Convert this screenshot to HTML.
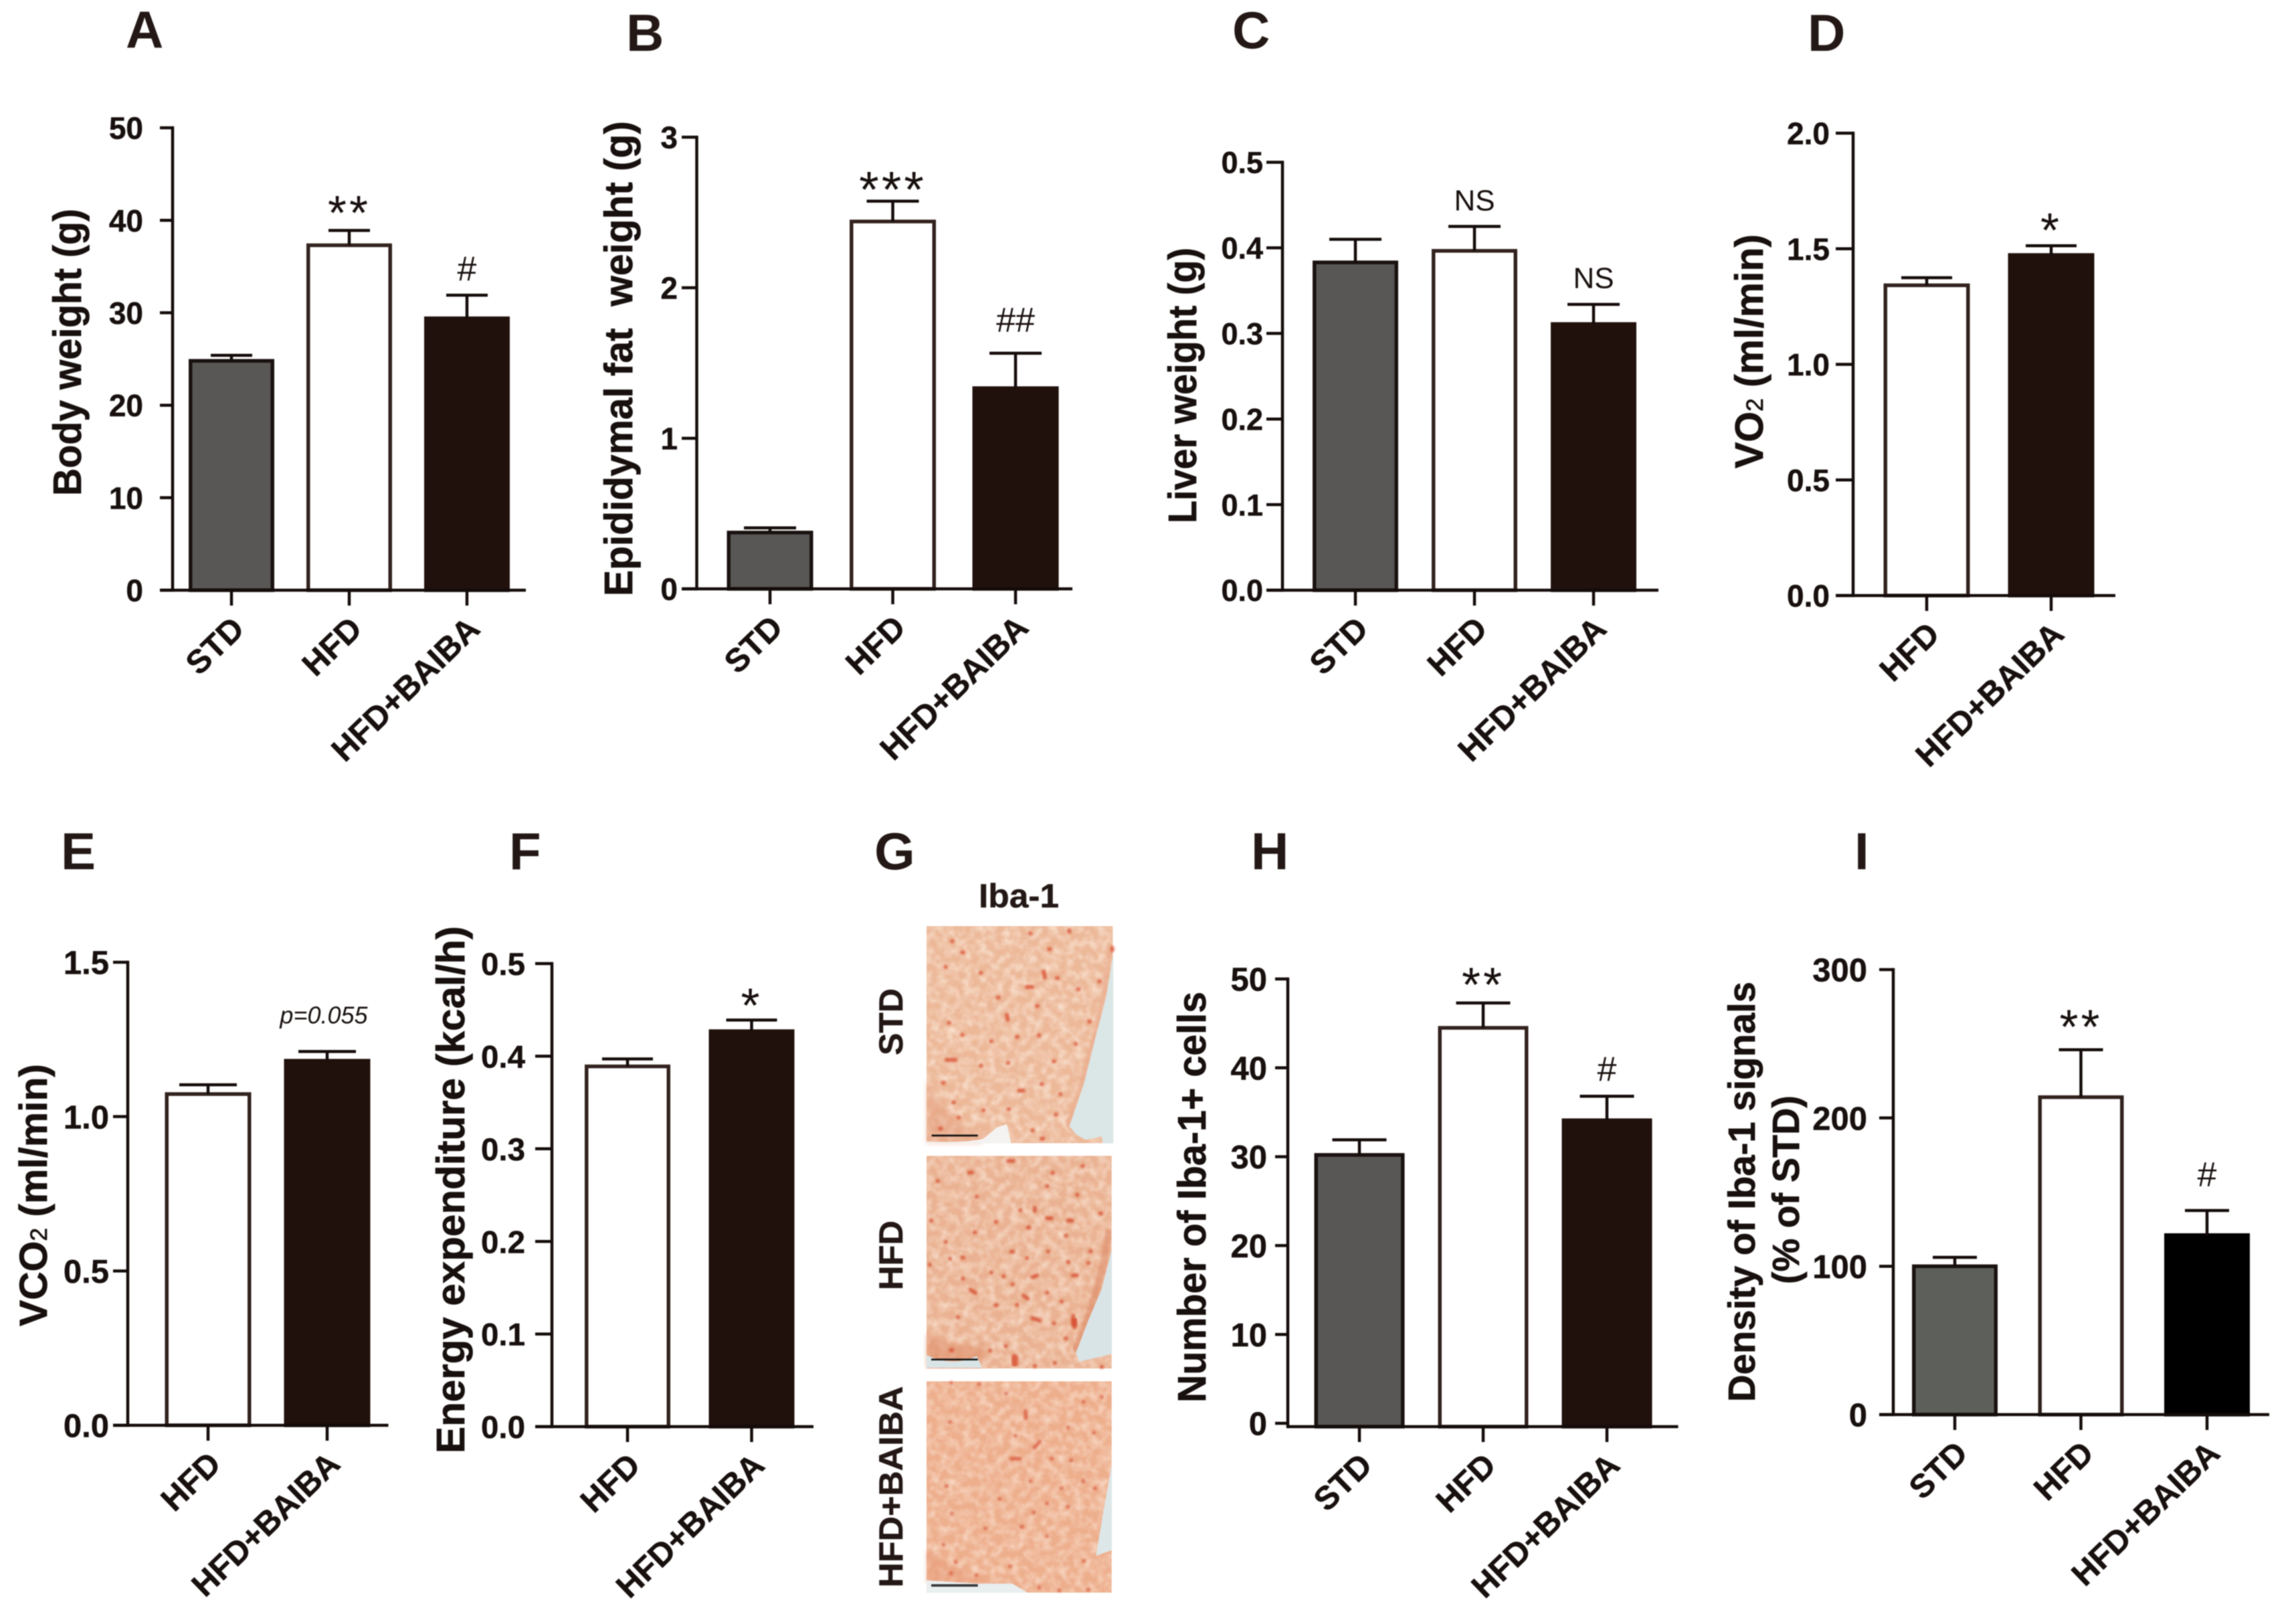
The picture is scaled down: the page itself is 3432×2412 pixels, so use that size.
<!DOCTYPE html>
<html lang="en">
<head>
<meta charset="utf-8">
<title>BAIBA multi-panel bar charts</title>
<style>
html,body{margin:0;padding:0;background:#fff;width:3432px;height:2412px;overflow:hidden}
svg#figure{display:block;filter:blur(.8px)}
text{font-family:"Liberation Sans",sans-serif;fill:#17100e;white-space:pre}
.letter{font-size:78px;font-weight:700;fill:#231815}
.tick{font-weight:700;stroke:#17100e;stroke-width:.5}
.ttl{font-weight:700;stroke:#17100e;stroke-width:.7}
.side{font-size:50px;font-weight:700;fill:#231815;stroke:#231815;stroke-width:.5}
</style>
</head>
<body>
<svg id="figure" xmlns="http://www.w3.org/2000/svg" width="3432" height="2412" viewBox="0 0 3432 2412">
<defs>
<filter id="tissue" x="0" y="0" width="100%" height="100%">
<feTurbulence type="fractalNoise" baseFrequency="0.028" numOctaves="3" seed="7"/>
<feColorMatrix type="matrix" values="0 0 0 0 .99  0 0 0 0 .89  0 0 0 0 .80  1.7 0 0 0 -.62"/>
<feGaussianBlur stdDeviation="3"/>
</filter>
<filter id="soft" x="-5%" y="-5%" width="110%" height="110%"><feGaussianBlur stdDeviation="5"/></filter>
<filter id="softer" x="-5%" y="-5%" width="110%" height="110%"><feGaussianBlur stdDeviation="12"/></filter>
</defs>
<rect width="3432" height="2412" fill="#fff"/>

<g>
<text class="letter" x="188" y="71">A</text>
<text class="letter" x="936" y="76">B</text>
<text class="letter" x="1842" y="72">C</text>
<text class="letter" x="2702" y="76">D</text>
<text class="letter" x="91" y="1299">E</text>
<text class="letter" x="761" y="1299">F</text>
<text class="letter" x="1307" y="1299">G</text>
<text class="letter" x="1870" y="1299">H</text>
<text class="letter" x="2772" y="1299">I</text>
</g>

<g>
<text class="side" x="1531" y="1356" text-anchor="middle" textLength="120" lengthAdjust="spacingAndGlyphs" dx="-8">Iba-1</text>
<text class="side" transform="translate(1349 1527) rotate(-90)" text-anchor="middle" textLength="100" lengthAdjust="spacingAndGlyphs">STD</text>
<text class="side" transform="translate(1349 1876) rotate(-90)" text-anchor="middle" textLength="104" lengthAdjust="spacingAndGlyphs">HFD</text>
<text class="side" transform="translate(1349 2222) rotate(-90)" text-anchor="middle" textLength="301" lengthAdjust="spacingAndGlyphs">HFD+BAIBA</text>

<svg x="1380" y="1380" width="290" height="340" viewBox="0 0 870 1020">
<rect x="15" y="12" width="835" height="973" fill="#ecb898"/>
<rect x="15" y="12" width="835" height="973" filter="url(#tissue)" opacity=".8"/>
<path d="M15 700Q160 960 280 930L340 900L260 985H15Z" fill="#e59f7e" opacity=".5" filter="url(#softer)"/>
<path d="M840 130Q790 500 650 900L720 960" fill="none" stroke="#e9a98a" stroke-width="22" opacity=".6" filter="url(#soft)"/>
<path fill="#dbe6e6" d="M852 140L820 330L770 520L720 720L655 910L690 950L730 970L800 955L805 986H852Z"/>
<path fill="#f4f3f1" d="M15 986V978Q200 985 270 965L330 915L375 900L395 986Z"/>
<path fill="none" stroke="#d9492a" stroke-width="18" stroke-linecap="round" opacity=".78" filter="url(#soft)" d="M480 45h1M655 30v8M130 80h1M565 115h5M848 110v10M175 130h5M100 195h1M258 222h1M540 215l6 28M600 245h3M790 260h1M465 285h25M695 295h1M335 332h3M510 370h3M375 410l4 22M745 440h1M115 445h1M175 500h1M520 500v3M305 528h1M420 508h3M683 540h1M105 612h40M585 618h3M380 625h1M258 638h1M88 715h5M530 720h3M430 750h20M615 765h1M135 802h3M270 838h1M383 832h1M595 857h1M158 870h1M75 920h6M490 928h1M530 965h8"/>
<path stroke="#111" stroke-width="8" d="M38 951H245"/>
</svg>

<svg x="1380" y="1720" width="290" height="340" viewBox="0 0 870 1020">
<rect x="15" y="22" width="830" height="953" fill="#eab292"/>
<rect x="15" y="22" width="830" height="953" filter="url(#tissue)" opacity=".75"/>
<path d="M15 820Q140 900 280 860L260 970H15Z" fill="#e08f6b" opacity=".6" filter="url(#softer)"/>
<path d="M835 350Q800 620 680 900" fill="none" stroke="#dd8a66" stroke-width="34" opacity=".6" filter="url(#soft)"/>
<path fill="#d9e4e6" d="M846 440L800 620L740 760L685 905L700 945L846 910Z"/>
<path fill="#d9e4e6" d="M15 915Q130 970 240 920L265 972H15Z"/>
<path fill="none" stroke="#d54a2a" stroke-width="18" stroke-linecap="round" opacity=".78" filter="url(#soft)" d="M380 45h25M205 97h15M65 135h1M715 68h1M580 98h1M555 158h1M240 205h1M690 197h1M435 265h1M500 255v14M795 280h3M35 312h1M325 318h3M555 302h20M650 312h18M470 343h5M230 365h3M640 380h1M100 408h1M395 452h8M560 450h1M175 478h5M120 483h1M465 480h1M750 450h1M30 510h1M740 503h1M650 498h1M490 566l20-8M670 558h20M360 562h1M178 572h1M305 545h1M212 622l22 14M400 598h1M555 635h1M450 648l18 14M620 675h1M420 690h1M325 692h5M155 745h1M490 750l32 10M585 773h1M672 740l6 50M640 840h1M125 893h5M370 875h1M300 895h1M500 965h1M590 950h1M800 968h1"/>
<path stroke="#d94f30" stroke-width="30" stroke-linecap="round" opacity=".8" filter="url(#soft)" d="M410 925v30M678 760v15" fill="none"/>
<path stroke="#111" stroke-width="8" d="M36 935H245"/>
</svg>

<svg x="1380" y="2055" width="290" height="340" viewBox="0 0 870 1020">
<rect x="15" y="28" width="830" height="947" fill="#edae8c"/>
<rect x="15" y="28" width="830" height="947" filter="url(#tissue)" opacity=".7"/>
<path d="M15 780Q200 940 400 920L240 932H15Z" fill="#e79a78" opacity=".5" filter="url(#softer)"/>
<path fill="#dde7e8" d="M846 400L810 600L775 810L846 785Z"/>
<path fill="#e9eeee" d="M15 920L240 935L400 935L470 976H15Z"/>
<path fill="none" stroke="#d54a2e" stroke-width="16" stroke-linecap="round" opacity=".7" filter="url(#soft)" d="M125 35h1M250 40h1M372 82h1M718 120h1M800 98h1M458 160l3 34M120 210h1M650 235h1M765 258h1M413 272h1M498 325l25-28M395 375h38M575 375h3M663 382h1M718 472v6M480 475h1M105 497h1M770 507h1M620 507h1M342 555h1M555 575h1M648 590h1M495 615h1M128 620h1M278 687h3M440 680h4M555 722h1M90 760h1M145 838h2M720 833h1M390 857h1M238 897h1M125 888h1M520 950v4M610 965h1M740 962h1"/>
<path stroke="#333" stroke-width="11" d="M36 943H245"/>
</svg>
</g>

<g id="charts"></g>
</svg>

<script>
// ---- shared categories ----
const groupsThree = ['STD', 'HFD', 'HFD+BAIBA'];
const groupsTwo = ['HFD', 'HFD+BAIBA'];

// ---- panel A ----
const bodyWeightTicks = ['0', '10', '20', '30', '40', '50'];
const bodyWeightMeans = [24.8, 37.3, 29.4];
const bodyWeightUpper = [25.4, 38.9, 31.9];
const bodyWeightMarks = ['', '**', '#'];

// ---- panel B ----
const fatWeightTicks = ['0', '1', '2', '3'];
const fatWeightMeans = [0.374, 2.44, 1.333];
const fatWeightUpper = [0.405, 2.575, 1.565];
const fatWeightMarks = ['', '***', '##'];

// ---- panel C ----
const liverWeightTicks = ['0.0', '0.1', '0.2', '0.3', '0.4', '0.5'];
const liverWeightMeans = [0.383, 0.3965, 0.311];
const liverWeightUpper = [0.41, 0.425, 0.334];
const liverWeightMarks = ['', 'NS', 'NS'];

// ---- panel D ----
const vo2Ticks = ['0.0', '0.5', '1.0', '1.5', '2.0'];
const vo2Means = [1.342, 1.473];
const vo2Upper = [1.375, 1.513];
const vo2Marks = ['', '*'];

// ---- panel E ----
const vco2Ticks = ['0.0', '0.5', '1.0', '1.5'];
const vco2Means = [1.073, 1.181];
const vco2Upper = [1.103, 1.211];
const vco2Marks = ['', 'p=0.055'];

// ---- panel F ----
const energyTicks = ['0.0', '0.1', '0.2', '0.3', '0.4', '0.5'];
const energyMeans = [0.389, 0.427];
const energyUpper = [0.397, 0.439];
const energyMarks = ['', '*'];

// ---- panel H ----
const cellCountTicks = ['0', '10', '20', '30', '40', '50'];
const cellCountMeans = [30.2, 44.5, 34.1];
const cellCountUpper = [31.9, 47.3, 36.8];
const cellCountMarks = ['', '**', '#'];

// ---- panel I ----
const densityTicks = ['0', '100', '200', '300'];
const densityMeans = [100, 214, 121];
const densityUpper = [106, 246, 137.6];
const densityMarks = ['', '**', '#'];

const SVGNS = 'http://www.w3.org/2000/svg';
const INK = '#140c0a';

const panels = [
  {id:'a', groups:groupsThree, ticks:bodyWeightTicks, means:bodyWeightMeans, upper:bodyWeightUpper, marks:bodyWeightMarks,
   axisX:258, top:191, base:882, xEnd:786, tickLeft:239, labelRight:214, first:346, step:176, barW:128, capW:62, font:46,
   titles:[{t:'Body weight (g)', x:121, y0:312, y1:741, fs:59}], fills:['#585756','#fff','#21110d'], gapStar:35, gapOther:40},
  {id:'b', groups:groupsThree, ticks:fatWeightTicks, means:fatWeightMeans, upper:fatWeightUpper, marks:fatWeightMarks,
   axisX:1041.5, top:205, base:880, xEnd:1603, tickLeft:1019, labelRight:1013, first:1151, step:183.5, barW:129, capW:78, font:46,
   titles:[{t:'Epididymal fat  weight (g)', x:945, y0:181, y1:891, fs:59}], fills:['#585756','#fff','#21110d'], gapStar:27, gapOther:50},
  {id:'c', groups:groupsThree, ticks:liverWeightTicks, means:liverWeightMeans, upper:liverWeightUpper, marks:liverWeightMarks,
   axisX:1917, top:242.5, base:882, xEnd:2479, tickLeft:1893, labelRight:1888, first:2026, step:178, barW:128, capW:78, font:45,
   titles:[{t:'Liver weight (g)', x:1788, y0:370, y1:782, fs:59}], fills:['#585756','#fff','#21110d'], gapStar:35, gapOther:40},
  {id:'d', groups:groupsTwo, ticks:vo2Ticks, means:vo2Means, upper:vo2Upper, marks:vo2Marks,
   axisX:2770, top:199, base:890, xEnd:3162, tickLeft:2744, labelRight:2735, first:2880, step:186, barW:129, capW:76, font:46,
   titles:[{t:'VO', sub:'2', rest:' (ml/min)', x:2635, y0:350, y1:700, fs:59}], fills:['#fff','#21110d'], gapStar:32, gapOther:40},
  {id:'e', groups:groupsTwo, ticks:vco2Ticks, means:vco2Means, upper:vco2Upper, marks:vco2Marks,
   axisX:191, top:1438, base:2130, xEnd:580.5, tickLeft:169, labelRight:163, first:311, step:178, barW:129, capW:86, font:49,
   titles:[{t:'VCO', sub:'2', rest:' (ml/min)', x:70, y0:1590, y1:1982, fs:58}], fills:['#fff','#21110d'], gapStar:32, gapOther:55},
  {id:'f', groups:groupsTwo, ticks:energyTicks, means:energyMeans, upper:energyUpper, marks:energyMarks,
   axisX:825, top:1440, base:2132, xEnd:1216, tickLeft:800, labelRight:785, first:938, step:185.5, barW:128, capW:76, font:47.5,
   titles:[{t:'Energy expenditure (kcal/h)', x:694, y0:1384, y1:2172, fs:59}], fills:['#fff','#21110d'], gapStar:31, gapOther:40},
  {id:'h', groups:groupsThree, ticks:cellCountTicks, means:cellCountMeans, upper:cellCountUpper, marks:cellCountMarks,
   axisX:1925, top:1463, base:2127, axisDrop:5, xEnd:2508.5, tickLeft:1906, labelRight:1894, first:2032, step:185, barW:135, capW:81, font:49,
   titles:[{t:'Number of Iba-1+ cells', x:1802, y0:1482, y1:2096, fs:59}], fills:['#585756','#fff','#21110d'], gapStar:36, gapOther:41},
  {id:'i', groups:groupsThree, ticks:densityTicks, means:densityMeans, upper:densityUpper, marks:densityMarks,
   axisX:2830, top:1449, base:2114, xEnd:3392, tickLeft:2809, labelRight:2791, first:2922, step:188.5, barW:128, capW:66, font:49,
   titles:[{t:'Density of Iba-1 signals', x:2623, y0:1467, y1:2095, fs:57},{t:'(% of STD)', x:2689, y0:1637, y1:1919, fs:57}],
   fills:['#5d5f5b','#fff','#000'], gapStar:43, gapOther:54}
];

const root = document.getElementById('charts');

function line(parent, name, x1, y1, x2, y2, color, width) {
  const el = document.createElementNS(SVGNS, 'line');
  
  
  el.setAttribute('x1', x1);
  el.setAttribute('y1', y1);
  el.setAttribute('x2', x2);
  el.setAttribute('y2', y2);
  el.setAttribute('stroke', color);
  el.setAttribute('stroke-width', width);
  parent.appendChild(el);
  return el;
}

function label(parent, name, str, x, y, size, anchor, cls) {
  const el = document.createElementNS(SVGNS, 'text');
  
  
  el.setAttribute('x', x);
  el.setAttribute('y', y);
  el.setAttribute('font-size', size);
  el.setAttribute('text-anchor', anchor);
  if (cls) el.setAttribute('class', cls);
  el.textContent = str;
  parent.appendChild(el);
  return el;
}

function drawPanel(p) {
  const g = document.createElementNS(SVGNS, 'g');
  
  
  root.appendChild(g);

  const yMax = parseFloat(p.ticks[p.ticks.length - 1]);
  const yScale = v => p.base - (p.base - p.top) * v / yMax;
  const xScale = i => p.first + p.step * i;
  const axisY = p.base + (p.axisDrop || 0);
  const lw = 4.5;

  // bars
  p.means.forEach((m, i) => {
    const cx = xScale(i);
    const w = p.barW;
    const sw = 5.5;
    const bar = document.createElementNS(SVGNS, 'rect');
    
    
    bar.setAttribute('x', cx - w / 2 + sw / 2);
    bar.setAttribute('y', yScale(m));
    bar.setAttribute('width', w - sw);
    bar.setAttribute('height', Math.max(0, axisY - yScale(m)));
    bar.setAttribute('fill', p.fills[i]);
    const white = p.fills[i] === '#fff';
    bar.setAttribute('stroke', white ? '#32221e' : (p.fills[i] === '#585756' || p.fills[i] === '#5d5f5b' ? '#1a1210' : p.fills[i]));
    bar.setAttribute('stroke-width', sw);
    g.appendChild(bar);

    // error bar
    const up = yScale(p.upper[i]);
    line(g, 'error-bar-' + p.id + '-' + i, cx, yScale(m), cx, up, INK, lw);
    line(g, 'error-cap-' + p.id + '-' + i, cx - p.capW / 2, up, cx + p.capW / 2, up, INK, lw);

    // significance mark
    const mk = p.marks[i];
    if (mk) {
      let size, lift, mx = cx;
      if (mk[0] === '*') { size = mk.length === 3 ? 76 : 72; lift = p.gapStar - size * 0.47; }
      else if (mk[0] === '#') { size = 52; lift = p.gapOther - size * 0.35; }
      else if (mk === 'NS') { size = 44; lift = p.gapOther - size * 0.36; }
      else { size = 36; lift = p.gapOther - size * 0.36; mx = cx - 5; }
      const t = label(g, 'significance-mark-' + p.id + '-' + i, mk, mx, up - lift, size, 'middle');
      if (mk[0] === 'p') t.setAttribute('font-style', 'italic');
      if (mk[0] === '*') t.setAttribute('letter-spacing', '4');
      if (mk === 'NS' || mk[0] === 'p') t.setAttribute('fill', '#3a2a26');
    }

    // x tick + rotated label
    line(g, 'x-tick-' + p.id + '-' + i, cx, axisY, cx, axisY + 23, INK, lw);
    const xl = label(g, 'x-label-' + p.id + '-' + i, p.groups[i], cx + 22, axisY + 61, 49, 'end', 'tick');
    xl.setAttribute('transform', 'rotate(-44 ' + (cx + 22) + ' ' + (axisY + 61) + ')');
  });

  // axes
  line(g, 'y-axis-' + p.id, p.axisX, p.top - lw / 2, p.axisX, axisY + lw / 2, INK, lw);
  line(g, 'x-axis-' + p.id, p.axisX - (p.axisDrop ? 0 : p.axisX - p.tickLeft), axisY, p.xEnd, axisY, INK, lw);

  // y ticks + labels
  p.ticks.forEach(tk => {
    const y = yScale(parseFloat(tk));
    line(g, 'y-tick-' + p.id + '-' + tk, p.tickLeft, y, p.axisX, y, INK, lw);
    label(g, 'y-label-' + p.id + '-' + tk, tk, p.labelRight, y + p.font * 0.36, p.font, 'end', 'tick');
  });

  // y titles
  p.titles.forEach((ti, k) => {
    const el = document.createElementNS(SVGNS, 'text');
    
    
    el.setAttribute('class', 'ttl');
    el.setAttribute('font-size', ti.fs);
    el.setAttribute('text-anchor', 'middle');
    el.setAttribute('textLength', ti.y1 - ti.y0);
    el.setAttribute('lengthAdjust', 'spacingAndGlyphs');
    el.setAttribute('transform', 'translate(' + ti.x + ' ' + (ti.y0 + ti.y1) / 2 + ') rotate(-90)');
    el.appendChild(document.createTextNode(ti.t));
    if (ti.sub) {
      const s = document.createElementNS(SVGNS, 'tspan');
      s.setAttribute('font-size', ti.fs * 0.6);
      s.setAttribute('font-weight', '400');
      s.textContent = ti.sub;
      el.appendChild(s);
      el.appendChild(document.createTextNode(ti.rest));
    }
    g.appendChild(el);
  });
}

panels.forEach(drawPanel);
</script>
</body>
</html>
